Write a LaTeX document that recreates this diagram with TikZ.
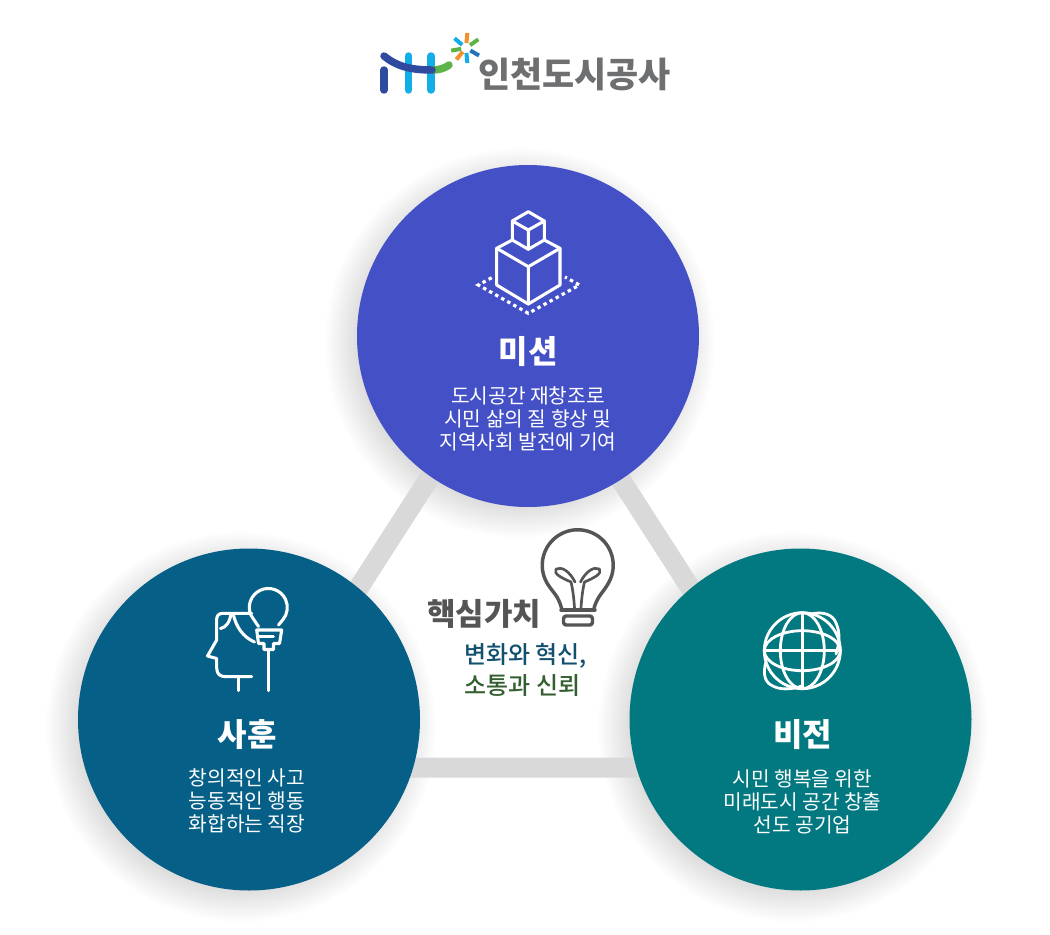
\documentclass[tikz,border=0pt]{standalone}
\usepackage{fontspec}
\setmainfont{Noto Sans CJK KR}
\newfontfamily\medfont{Noto Sans CJK KR Medium}
\definecolor{missionblue}{HTML}{4350C6}
\definecolor{mottoblue}{HTML}{055F87}
\definecolor{visionteal}{HTML}{027980}
\definecolor{barlight}{HTML}{D9D9D9}
\definecolor{bulbgrey}{HTML}{555555}
\definecolor{logogrey}{HTML}{6E6F71}
\definecolor{logonavy}{HTML}{2F4A9E}
\definecolor{logosky}{HTML}{12AEE8}
\definecolor{logogreen}{HTML}{5DB248}
\definecolor{logoorange}{HTML}{F2912B}
\definecolor{changeblue}{HTML}{11506F}
\definecolor{trustgreen}{HTML}{345F30}
\tikzset{
  bigcircle/.style={circle,draw=none,minimum size=256.5pt,inner sep=0pt},
  halo/.style={circle,fill=black,fill opacity=0.006,draw=none,inner sep=0pt},
  bar/.style={barlight,line width=15pt},
  icon/.style={white,line width=2.3pt,line join=round,line cap=round},
  bulbline/.style={bulbgrey,line width=2.6pt,line join=round,line cap=round},
  logobar/.style={line width=5.6pt,line cap=round},
  title/.style={white,font=\bfseries\fontsize{24}{28}\selectfont,inner sep=0pt},
  body/.style={white,font=\fontsize{15.2}{17.5}\selectfont,align=center,inner sep=0pt},
}
\begin{document}
\begin{tikzpicture}[x=0.75pt,y=0.75pt,yscale=-1]
\useasboundingbox (0,0) rectangle (1050,935);
\fill [white] (0,0) rectangle (1050,935);

% Shadows
\foreach \r in {163,165,...,195} {
  \node [halo,minimum size=\r*1.5pt] at (520,343) {};
  \node [halo,minimum size=\r*1.5pt] at (241,727) {};
  \node [halo,minimum size=\r*1.5pt] at (793,727) {};
}

% Bars
\coordinate (apex) at (524.5,330);
\coordinate (baseL) at (243,767.7);
\coordinate (baseR) at (806,767.7);
\draw [bar] (baseL) -- (apex) -- (baseR) -- (baseL);

% Circles
\node (mission) [bigcircle,fill=missionblue] at (528,336) {};
\node (motto) [bigcircle,fill=mottoblue] at (249,719.5) {};
\node (vision) [bigcircle,fill=visionteal] at (800.5,719.5) {};

% Logo
\draw [logobar,logonavy] (384,70) -- (384,90);
\draw [logobar,logosky] (408.5,56) -- (408.5,90);
\draw [logobar,logosky] (431,56) -- (431,90);
\draw [logobar,logogreen] (432,70) .. controls (440,70) and (445,68) .. (449,65);
\draw [logobar,logonavy] (384,56) .. controls (396,66) and (410,70) .. (432,70);
\foreach \a/\c in {-85/logoorange,-35/logogreen,30/logonavy!60!logosky,85/logosky,130/logoorange,170/logogreen,-140/logosky} {
  \draw [\c,line width=3pt] (466,48) ++(\a:5) -- ++(\a:10);
}
\draw (574.5,74) node (logotext) [logogrey,font=\bfseries\fontsize{26.2}{30}\selectfont,inner sep=0pt] {인천도시공사};

% Cube
\draw [icon] (528.3,211.7) -- (544.3,221) -- (544.3,240) -- (528.3,249.3) -- (512.3,240) -- (512.3,221) -- cycle;
\draw [icon] (512.3,221) -- (528.3,230) -- (544.3,221) (528.3,230) -- (528.3,249.3);
\draw [icon] (512.3,240) -- (496.7,248.3) -- (496.7,285) -- (528.3,304) -- (560,285) -- (560,248.3) -- (544.3,240);
\draw [icon] (496.7,248.3) -- (528.3,266.7) -- (560,248.3) (528.3,266.7) -- (528.3,304);
\draw [white,line width=2.4pt,dash pattern=on 2.6pt off 2.6pt] (491.7,277.7) -- (478.3,285) -- (528.3,313.3) -- (579.5,285) -- (565,277);

% Head
\draw [icon] (251.7,613.3) -- (223,613.3) .. controls (219,613.3) and (216.7,615.5) .. (216.7,619) -- (216.7,640) -- (207.5,656) -- (216.7,658.5) -- (216.7,668) .. controls (216.7,674) and (220,676.7) .. (226,676.7) -- (251.7,676.7);
\draw [icon] (238.3,676.7) -- (238.3,690.7);
\draw [icon] (233,613.3) .. controls (236,627) and (243,637) .. (254.5,642);
\draw [icon] (220.5,628.5) .. controls (226,627.5) and (230,622) .. (231,613.3);
\draw [icon] (258.5,626.5) -- (251.1,615.5) arc [start angle=155,end angle=400,radius=19] -- (278.5,625);
\draw [icon] (256.7,630) -- (281.7,630) -- (279.5,643.5) -- (273.5,643.5) -- (273.5,649.5) -- (264,649.5) -- (264,643.5) -- (258.5,643.5) -- cycle;
\draw [icon] (258.5,636.7) -- (273.3,636.7);
\draw [icon] (268.5,650) -- (268.5,690.7);

% Globe
\draw [icon,line width=2.1pt] (802.3,650.7) circle (38);
\draw [icon,line width=2.1pt] (802.3,650.7) circle [x radius=22,y radius=38];
\draw [icon,line width=2.1pt] (802.3,650.7) circle [x radius=38,y radius=20];
\draw [icon,line width=2.1pt] (764.3,650.7) -- (840.3,650.7) (802.3,612.7) -- (802.3,688.7);
\draw [icon,line width=2.1pt] (811,614) .. controls (824,611) and (833,615) .. (836,623) .. controls (840,632) and (840,642) .. (836,654);
\draw [icon,line width=2.1pt] (766,662) .. controls (763,672) and (764,681) .. (771,685) .. controls (779,690) and (790,690) .. (802,686);

% Bulb
\draw [bulbline] (561.5,608) .. controls (558,595) and (553,593) .. (547,583) arc [start angle=150,end angle=390,radius=35.5] .. controls (603,593) and (598,595) .. (594,608);
\draw [bulbline] (561,610) -- (595,610);
\draw [bulbline,rounded corners=2pt] (563.5,616) rectangle (592.5,625);
\draw [bulbline,line width=2pt] (575,582) .. controls (570,572) and (562,566) .. (556,569) .. controls (553,574) and (562,578) .. (571,582) .. controls (573,590) and (574,600) .. (574.5,608);
\draw [bulbline,line width=2pt] (580.5,582) .. controls (585.5,572) and (593.5,566) .. (599.5,569) .. controls (602.5,574) and (593.5,578) .. (584.5,582) .. controls (582.5,590) and (581.5,600) .. (581,608);

% Text Node
\draw (528,352) node (missiontitle) [title] {미션};
\draw (528,419) node (missionbody) [body] {도시공간 재창조로\\시민 삶의 질 향상 및\\지역사회 발전에 기여};
\draw (247,735) node (mottotitle) [title] {사훈};
\draw (247,801) node (mottobody) [body] {창의적인 사고\\능동적인 행동\\화합하는 직장};
\draw (802.5,735) node (visiontitle) [title] {비전};
\draw (802.5,802) node (visionbody) [body] {시민 행복을 위한\\미래도시 공간 창출\\선도 공기업};
\draw (484,614) node (coretitle) [bulbgrey,font=\bfseries\fontsize{23.2}{26}\selectfont,inner sep=0pt] {핵심가치};
\draw (525.5,656) node (corechange) [changeblue,font=\medfont\fontsize{18}{22}\selectfont,inner sep=0pt] {변화와 혁신,};
\draw (522.5,686) node (coretrust) [trustgreen,font=\medfont\fontsize{18}{22}\selectfont,inner sep=0pt] {소통과 신뢰};
\end{tikzpicture}
\end{document}
